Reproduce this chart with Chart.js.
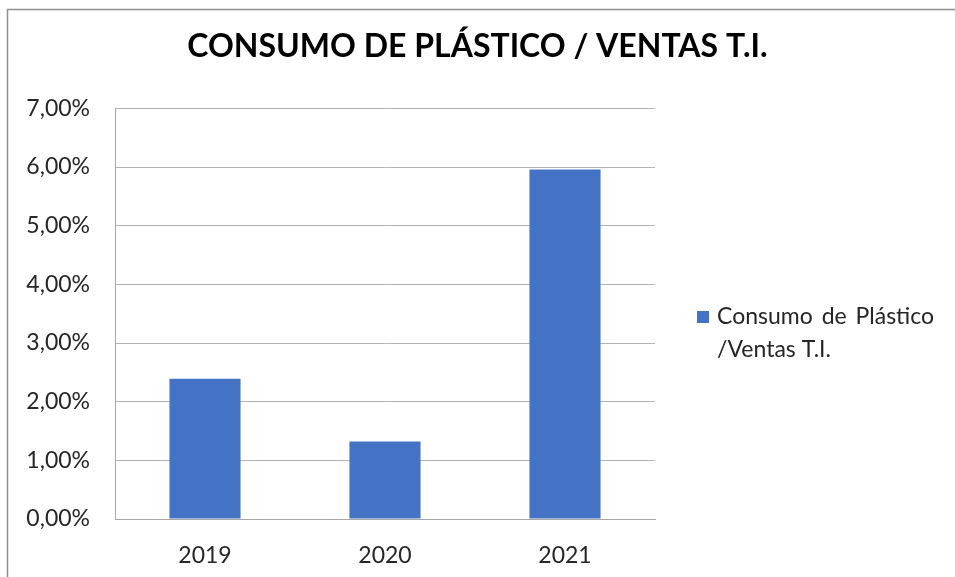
<!DOCTYPE html>
<html>
<head>
<meta charset="utf-8">
<script src="https://cdn.jsdelivr.net/npm/chart.js@4.4.1/dist/chart.umd.min.js"></script>
<style>
  html, body { margin: 0; padding: 0; background: #ffffff; }
  #wrap { position: relative; width: 955px; height: 577px; }
  canvas { display: block; }
</style>
</head>
<body>
<div id="wrap"><canvas id="c" width="955" height="577"></canvas></div>
<script>
const categories = ['2019', '2020', '2021'];
const seriesLabel = 'Consumo de Plástico /Ventas T.I.';
const legendLines = ['Consumo de Plástico', '/Ventas T.I.'];
const values = [2.39, 1.32, 5.96];
const chartTitle = 'CONSUMO DE PLÁSTICO / VENTAS T.I.';
const yMin = 0, yMax = 7, yStep = 1;

const FONT = 'Lato, "Open Sans", sans-serif';
const BAR_COLOR = '#4472C4';
const TEXT_COLOR = '#262626';

const framePlugin = {
  id: 'frame',
  beforeDraw(chart) {
    const ctx = chart.ctx;
    ctx.save();
    ctx.fillStyle = '#ffffff';
    ctx.fillRect(0, 0, chart.width, chart.height);
    ctx.strokeStyle = '#8f8f8f';
    ctx.lineWidth = 1.5;
    ctx.beginPath();
    ctx.moveTo(7.5, chart.height);
    ctx.lineTo(7.5, 9.5);
    ctx.lineTo(chart.width, 9.5);
    ctx.stroke();
    ctx.restore();
  }
};

const sideLegend = {
  id: 'sideLegend',
  afterDraw(chart) {
    const ctx = chart.ctx;
    const ds = chart.data.datasets[0];
    const x0 = chart.chartArea.right + 42;
    const yMid = 317;
    ctx.save();
    ctx.fillStyle = ds.backgroundColor;
    ctx.fillRect(x0, yMid - 6, 12, 12);
    ctx.fillStyle = TEXT_COLOR;
    ctx.font = '23px ' + FONT;
    ctx.textBaseline = 'middle';
    ctx.textAlign = 'left';
    legendLines.forEach((line, i) => {
      try { ctx.wordSpacing = i === 0 ? '3px' : '0px'; } catch (e) {}
      ctx.fillText(line, x0 + 20, yMid + i * 33);
    });
    ctx.restore();
  }
};

new Chart(document.getElementById('c'), {
  type: 'bar',
  data: {
    labels: categories,
    datasets: [{
      label: seriesLabel,
      data: values,
      backgroundColor: BAR_COLOR,
      borderWidth: 0,
      categoryPercentage: 1,
      barPercentage: 0.395
    }]
  },
  options: {
    responsive: false,
    animation: false,
    devicePixelRatio: 1,
    layout: { padding: { left: 0, right: 0, top: 0, bottom: 0 } },
    plugins: {
      legend: { display: false },
      tooltip: { enabled: false },
      title: {
        display: true,
        text: chartTitle,
        color: '#000000',
        font: { family: FONT, size: 32, weight: 'bold', lineHeight: 1.2 },
        padding: { top: 27, bottom: 43 },
        align: 'center'
      }
    },
    scales: {
      x: {
        grid: { display: false },
        border: { display: true, color: '#a6a6a6', width: 1 },
        ticks: { color: TEXT_COLOR, font: { family: FONT, size: 23 }, padding: 15 },
        afterFit(scale) { scale.height = 58; }
      },
      y: {
        min: yMin,
        max: yMax,
        ticks: {
          stepSize: yStep,
          color: TEXT_COLOR,
          font: { family: FONT, size: 23 },
          padding: 25,
          callback: (v) => v.toFixed(2).replace('.', ',') + '%'
        },
        grid: { color: '#b3b3b3', lineWidth: 1, drawTicks: false },
        border: { display: true, color: '#a6a6a6', width: 1 },
        afterFit(scale) { scale.width = 115; }
      },
      legendSpace: {
        type: 'linear',
        position: 'right',
        display: true,
        grid: { display: false, drawTicks: false },
        border: { display: false },
        ticks: { display: false },
        afterFit(scale) { scale.width = 300; }
      }
    }
  },
  plugins: [framePlugin, sideLegend]
});
</script>
</body>
</html>
